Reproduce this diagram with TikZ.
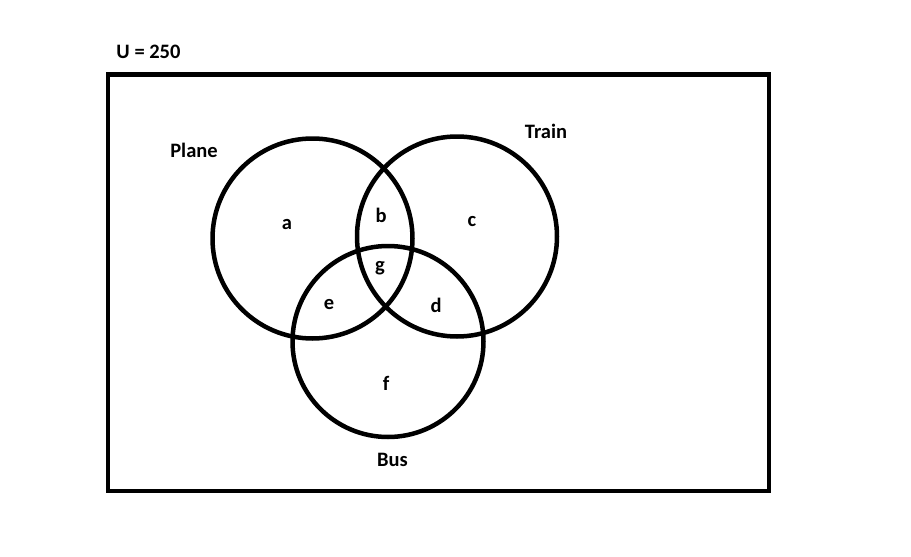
\documentclass[tikz,border=0pt]{standalone}
\usepackage{fontspec}
\setmainfont{Carlito}
\begin{document}
\begin{tikzpicture}[x=1pt,y=-1pt,
  setline/.style={line width=4.5pt, draw=black},
  lbl/.style={font=\fontsize{20.5}{23}\selectfont\bfseries, inner sep=0pt}]
\useasboundingbox (0,0) rectangle (911,557);
\draw[setline] (108,74.5) rectangle (769,491);
\node[setline, circle, minimum size=200pt, inner sep=0pt] (plane) at (312.5,238.5) {};
\node[setline, circle, minimum size=200pt, inner sep=0pt] (train) at (457,236.5) {};
\node[setline, circle, minimum size=191pt, inner sep=0pt] (bus) at (388,341.5) {};
\node[lbl] (U) at (148.5,51.5) {U = 250};
\node[lbl] (lplane) at (194,150) {Plane};
\node[lbl] (ltrain) at (546,131) {Train};
\node[lbl] (lbus) at (392.5,460) {Bus};
\node[lbl] (a) at (287,225) {a};
\node[lbl] (b) at (381,215) {b};
\node[lbl] (c) at (472,222) {c};
\node[lbl] (g) at (380,268) {g};
\node[lbl] (e) at (329,305) {e};
\node[lbl] (d) at (436,305) {d};
\node[lbl] (f) at (386,383) {f};
\end{tikzpicture}
\end{document}
